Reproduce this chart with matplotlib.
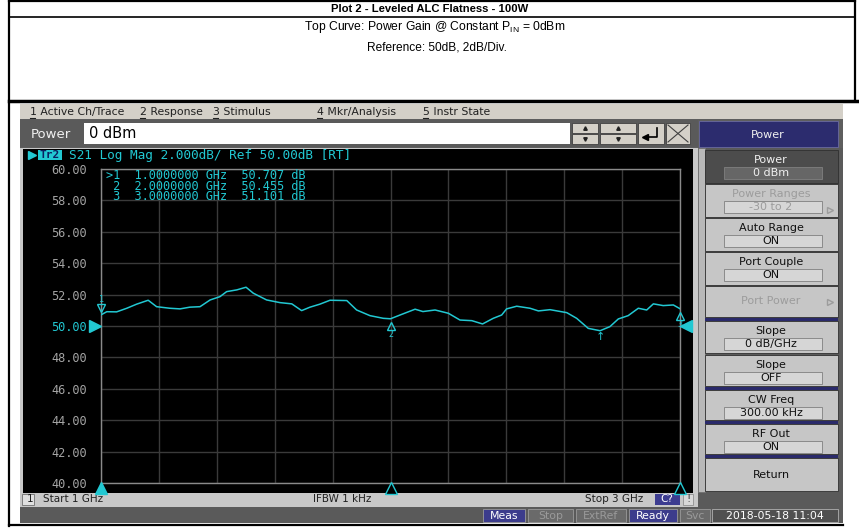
import numpy as np
import matplotlib.pyplot as plt
import matplotlib.transforms as mtransforms
from matplotlib.patches import Rectangle

# ------------------------------------------------------------
# data (S21, 1-3 GHz)
# ------------------------------------------------------------
freq_ghz = [1.000, 1.020, 1.054, 1.089, 1.123, 1.163, 1.192, 1.238, 1.273, 1.307,
            1.342, 1.377, 1.411, 1.434, 1.469, 1.501, 1.526, 1.572, 1.618, 1.659,
            1.693, 1.722, 1.756, 1.791, 1.849, 1.883, 1.929, 1.975, 2.000, 2.033,
            2.085, 2.112, 2.154, 2.200, 2.240, 2.281, 2.318, 2.355, 2.384, 2.401,
            2.436, 2.482, 2.511, 2.551, 2.609, 2.643, 2.683, 2.724, 2.758, 2.787,
            2.821, 2.856, 2.885, 2.908, 2.942, 2.977, 3.000]
gain_db = [50.71, 50.91, 50.90, 51.13, 51.39, 51.64, 51.23, 51.13, 51.09, 51.20,
           51.23, 51.66, 51.87, 52.19, 52.30, 52.47, 52.09, 51.66, 51.49, 51.41,
           50.98, 51.20, 51.39, 51.64, 51.62, 51.02, 50.66, 50.49, 50.46, 50.70,
           51.07, 50.92, 51.02, 50.81, 50.38, 50.34, 50.13, 50.49, 50.70, 51.09,
           51.26, 51.13, 50.96, 51.04, 50.85, 50.49, 49.85, 49.70, 49.96, 50.45,
           50.66, 51.13, 51.02, 51.41, 51.30, 51.34, 51.10]

mkr_labels = ['>1', '2', '3']
mkr_freq = [1.0, 2.0, 3.0]
mkr_gain = [50.707, 50.455, 51.101]

y_ticks = [40, 42, 44, 46, 48, 50, 52, 54, 56, 58, 60]
x_grid = [1.0, 1.2, 1.4, 1.6, 1.8, 2.0, 2.2, 2.4, 2.6, 2.8, 3.0]
ref_level = 50

menu_items = ['1 Active Ch/Trace', '2 Response', '3 Stimulus', '4 Mkr/Analysis', '5 Instr State']
menu_x = [30, 140, 213, 317, 423]

# softkeys: label, value, state
softkeys = [
    ('Power', '0 dBm', 'active'),
    ('Power Ranges', '-30 to 2', 'disabled'),
    ('Auto Range', 'ON', 'normal'),
    ('Port Couple', 'ON', 'normal'),
    ('Port Power', None, 'disabled'),
    ('Slope', '0 dB/GHz', 'normal'),
    ('Slope', 'OFF', 'normal'),
    ('CW Freq', '300.00 kHz', 'normal'),
    ('RF Out', 'ON', 'normal'),
    ('Return', None, 'normal'),
]
softkey_y = [(150, 183), (184, 217), (218, 251), (252, 285), (286, 317),
             (321, 353), (355, 386), (390, 420), (424, 454), (458, 491)]
navy_lines = [319, 388, 422, 456]

CYAN = '#22c8d2'
W, H = 859, 528

fig = plt.figure(figsize=(W / 100, H / 100), dpi=100)
bg = fig.add_axes([0, 0, 1, 1])
bg.set_xlim(0, W)
bg.set_ylim(H, 0)
bg.axis('off')


def box(x0, y0, x1, y1, fc, ec='none', lw=0, z=1):
    bg.add_patch(Rectangle((x0, y0), x1 - x0, y1 - y0, facecolor=fc,
                           edgecolor=ec, linewidth=lw, zorder=z))


def txt(x, y, s, size=8, color='black', ha='left', family='DejaVu Sans', weight='normal', z=5):
    bg.text(x, y, s, fontsize=size, color=color, ha=ha, va='center',
            family=family, fontweight=weight, zorder=z)


# --- report header (white page with black frame) ---
box(0, 0, W, H, 'white', z=0)
bg.plot([9, 9], [0, 526], color='black', lw=1.6, zorder=2)
bg.plot([9, 855], [1, 1], color='black', lw=1.6, zorder=2)
bg.plot([855, 855], [0, 101], color='black', lw=1.6, zorder=2)
bg.plot([9, 855], [17, 17], color='black', lw=1.2, zorder=2)
bg.plot([9, W], [101, 101], color='black', lw=2.5, zorder=2)
bg.plot([9, 843], [525, 525], color='black', lw=1.6, zorder=2)
txt(430, 9, 'Plot 2 - Leveled ALC Flatness - 100W', size=8.1, ha='center',
    family='Liberation Sans', weight='bold')
txt(435, 27, r'Top Curve: Power Gain @ Constant $\mathregular{P_{IN}}$ = 0dBm', size=8.7,
    ha='center', family='Liberation Sans')
txt(437, 48, 'Reference: 50dB, 2dB/Div.', size=8.6, ha='center', family='Liberation Sans')

# --- analyzer screen ---
box(20, 104, 843, 523, '#5e5e5e', z=1)
box(20, 104, 843, 119, '#d4d0c8', z=2)
for s, x in zip(menu_items, menu_x):
    txt(x, 112, s, size=7.8, color='#202020')
    bg.plot([x, x + 5], [118, 118], color='#202020', lw=0.8, zorder=3)

# entry row
box(20, 120, 698, 147, '#5a5a5a', z=2)
txt(31, 134, 'Power', size=9.5, color='#f0f0f0')
box(84, 123, 570, 144, 'white', z=3)
txt(89, 134, '0 dBm', size=10.5, color='black')
for x0, x1 in [(572, 598), (600, 636)]:
    box(x0, 123, x1, 133, '#d4d0c8', ec='#404040', lw=0.6, z=3)
    box(x0, 134, x1, 144, '#d4d0c8', ec='#404040', lw=0.6, z=3)
    bg.plot([(x0 + x1) / 2], [128], marker='^', ms=2.5, color='#202020', zorder=4)
    bg.plot([(x0 + x1) / 2], [139], marker='v', ms=2.5, color='#202020', zorder=4)
box(638, 123, 664, 144, '#d4d0c8', ec='#404040', lw=0.6, z=3)
bg.plot([657, 657, 645], [128, 137, 137], color='black', lw=1.2, zorder=4)
bg.plot([645], [137], marker='<', ms=4, color='black', zorder=4)
box(666, 123, 690, 144, '#d4d0c8', ec='#404040', lw=0.6, z=3)
bg.plot([668, 688], [125, 142], color='#404040', lw=0.8, zorder=4)
bg.plot([668, 688], [142, 125], color='#404040', lw=0.8, zorder=4)

# right panel header
box(699, 121, 838, 147, '#2c2c6e', ec='#6a6aa0', lw=0.6, z=2)
txt(768, 135, 'Power', size=8, color='#f0f0f0', ha='center')

# plot area
box(20, 148, 698, 507, '#c8c8c8', z=2)
box(23, 149, 693, 493, 'black', z=3)

# status bar
txt(27, 499, '1', size=7.5, color='#202020', z=6)
box(22, 494, 34, 505, '#e0e0e0', ec='#707070', lw=0.6, z=4)
txt(43, 499, 'Start 1 GHz', size=7.5, color='#202020')
txt(313, 499, 'IFBW 1 kHz', size=7.5, color='#202020')
txt(585, 499, 'Stop 3 GHz', size=7.5, color='#202020')
box(655, 494, 680, 505, '#3c3c90', z=4)
txt(667, 499, 'C?', size=7.5, color='white', ha='center')
box(683, 494, 693, 505, '#d8d8d8', ec='#909090', lw=0.6, z=4)
txt(688, 499, '!', size=7.5, color='#404040', ha='center')

# bottom bar
box(20, 507, 843, 523, '#5a5a5a', z=2)
bottom_btns = [('Meas', 483, 525, True), ('Stop', 528, 573, False),
               ('ExtRef', 576, 626, False), ('Ready', 629, 677, True), ('Svc', 680, 710, False)]
for s, x0, x1, on in bottom_btns:
    box(x0, 509, x1, 522, '#3c3c8c' if on else '#6a6a6a', ec='#9a9a9a', lw=0.6, z=3)
    txt((x0 + x1) / 2, 516, s, size=7.8, color='white' if on else '#9a9a9a', ha='center')
box(712, 509, 838, 522, '#505050', ec='#b0b0b0', lw=0.6, z=3)
txt(775, 516, '2018-05-18 11:04', size=7.8, color='white', ha='center')

# softkey panel
box(698, 148, 843, 507, '#5a5a5a', z=2)
box(698, 148, 705, 492, '#b8b8b8', ec='#707070', lw=0.6, z=3)
for y in navy_lines:
    box(705, y - 1, 838, y + 1.5, '#2a2a6a', z=3)
for (label, value, state), (y0, y1) in zip(softkeys, softkey_y):
    fc = '#4c4c4c' if state == 'active' else '#c6c6c6'
    tc = '#f0f0f0' if state == 'active' else ('#9c9c9c' if state == 'disabled' else '#101010')
    box(705, y0, 838, y1, fc, ec='#303030', lw=0.6, z=3)
    if value is None:
        txt(771, (y0 + y1) / 2, label, size=8, color=tc, ha='center')
    else:
        txt(771, y0 + 10, label, size=8, color=tc, ha='center')
        vfc = '#666666' if state == 'active' else '#d6d6d6'
        box(724, y0 + 17, 822, y0 + 29, vfc, ec='#808080', lw=0.6, z=4)
        txt(771, y0 + 23, value, size=8, color=tc, ha='center')
    if state == 'disabled':
        bg.plot([830], [(y0 + 26) if value else (y0 + y1) / 2], marker='>', ms=5,
                mfc='none', mec='#9c9c9c', zorder=5)

# --- trace window ---
ax = fig.add_axes([101 / W, 1 - 483 / H, 579 / W, 314 / H])
ax.set_facecolor('black')
ax.set_xlim(1, 3)
ax.set_ylim(40, 60)
ax.set_xticks(x_grid)
ax.set_yticks(y_ticks)
ax.grid(True, color='#3a3a3a', lw=1)
ax.set_xticklabels([])
ax.set_yticklabels([f'{v:.2f}' for v in y_ticks], family='DejaVu Sans Mono', fontsize=8.6)
ax.tick_params(length=0, pad=10, colors='#a4a4a4')
for lab, v in zip(ax.get_yticklabels(), y_ticks):
    if v == ref_level:
        lab.set_color(CYAN)
for sp in ax.spines.values():
    sp.set_color('#8a8a8a')
    sp.set_linewidth(1)

ax.plot(freq_ghz, gain_db, color=CYAN, lw=1.1, zorder=4)

# reference level arrows
ytr = ax.get_yaxis_transform()
ax.plot([-0.011], [ref_level], marker='>', ms=8, color=CYAN, transform=ytr, clip_on=False, zorder=5)
ax.plot([1.011], [ref_level], marker='<', ms=8, color=CYAN, transform=ytr, clip_on=False, zorder=5)

# markers on the trace
above = mtransforms.offset_copy(ax.transData, fig=fig, x=0, y=7, units='dots')
below = mtransforms.offset_copy(ax.transData, fig=fig, x=0, y=-7, units='dots')
for i, (f, g) in enumerate(zip(mkr_freq, mkr_gain)):
    num = mkr_labels[i].strip('>')
    if i == 0:
        ax.plot([f], [g], marker='v', ms=6, mfc='none', mec=CYAN, mew=1, transform=above, clip_on=False, zorder=5)
        ax.text(f, g, num, color=CYAN, fontsize=6, ha='center', va='bottom', family='DejaVu Sans Mono',
                transform=mtransforms.offset_copy(ax.transData, fig=fig, y=11, units='dots'))
    else:
        ax.plot([f], [g], marker='^', ms=6, mfc='none', mec=CYAN, mew=1, transform=below, clip_on=False, zorder=5)
        ax.text(f, g, num, color=CYAN, fontsize=6, ha='center', va='top', family='DejaVu Sans Mono',
                transform=mtransforms.offset_copy(ax.transData, fig=fig, y=-11, units='dots'))

# min marker
i_min = int(np.argmin(gain_db))
ax.text(freq_ghz[i_min], gain_db[i_min], '↑', color=CYAN, fontsize=8, ha='center', va='top',
        transform=mtransforms.offset_copy(ax.transData, fig=fig, y=-1, units='dots'))

# stimulus triangles under the grid
stim = mtransforms.offset_copy(ax.transData, fig=fig, x=0, y=-5, units='dots')
for i, f in enumerate(mkr_freq):
    ax.plot([f], [40], marker='^', ms=8, color=CYAN, mfc=CYAN if i == 0 else 'black',
            mew=1, transform=stim, clip_on=False, zorder=5)

# trace title and marker readout
mono = 'DejaVu Sans Mono'
bg.plot([32], [155], marker='>', ms=6, color=CYAN, zorder=6)
box(38, 150, 62, 160, CYAN, z=6)
txt(50, 155, 'Tr2', size=8, color='#0a2060', ha='center', family=mono, weight='bold', z=7)
txt(69, 155, 'S21 Log Mag 2.000dB/ Ref 50.00dB [RT]', size=9.2, color=CYAN, family=mono, z=6)
readout = '\n'.join(f'{lab:>2}  {f:.7f} GHz  {g:.3f} dB'
                    for lab, f, g in zip(mkr_labels, mkr_freq, mkr_gain))
ax.text(106, 186, readout, transform=bg.transData, fontsize=8.6, color=CYAN, family=mono,
        ha='left', va='center', linespacing=0.76, zorder=6)

plt.savefig('out.png', dpi=100)
